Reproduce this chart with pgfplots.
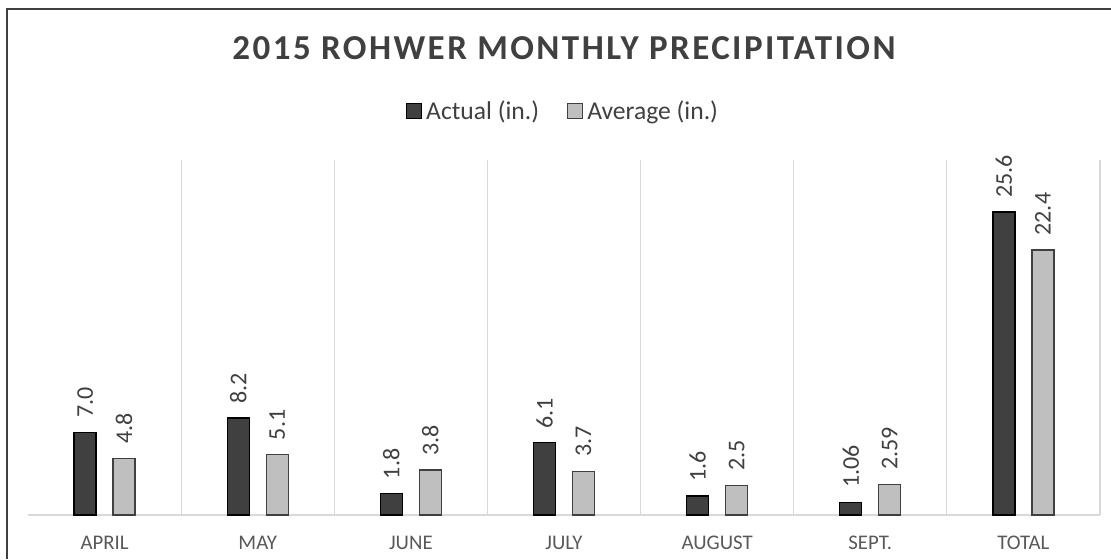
\documentclass[border=0pt]{standalone}
\usepackage{fontspec}
\setmainfont{Carlito}
\newfontfamily\titlefont[LetterSpace=7]{Carlito}
\usepackage{pgfplots}
\usepackage{pgfplotstable}
\pgfplotsset{compat=1.18}
\definecolor{darkbar}{HTML}{404040}
\definecolor{lightbar}{HTML}{BFBFBF}
\definecolor{txt}{HTML}{595959}
\definecolor{ttl}{HTML}{404040}
\definecolor{gridc}{HTML}{D9D9D9}
\pgfplotstableread{
x y lab
0 7.0 7.0
1 8.2 8.2
2 1.8 1.8
3 6.1 6.1
4 1.6 1.6
5 1.06 1.06
6 25.6 25.6
}\actual
\pgfplotstableread{
x y lab
0 4.8 4.8
1 5.1 5.1
2 3.8 3.8
3 3.7 3.7
4 2.5 2.5
5 2.59 2.59
6 22.4 22.4
}\average
\begin{document}
\begin{tikzpicture}
\useasboundingbox (-14pt,-22pt) rectangle (541.5pt,257.5pt);
\draw[color=black!75, line width=0.6pt] (-10.5pt,-22pt) -- (-10.5pt,253pt) -- (541.5pt,253pt);
\begin{axis}[
  at={(0,0)}, anchor=south west,
  scale only axis, width=536pt, height=177.5pt,
  xmin=-0.5, xmax=6.5, ymin=0, ymax=30,
  axis x line*=bottom, axis y line=none,
  x axis line style={draw=gridc, line width=0.75pt, -},
  xtick={0,...,6},
  xticklabels={APRIL,MAY,JUNE,JULY,AUGUST,SEPT.,TOTAL},
  major tick length=0pt,
  xticklabel style={font=\fontsize{10.4}{12}\selectfont, text=txt, yshift=-7pt},
  extra x ticks={0.5,1.5,2.5,3.5,4.5,5.5,6.5},
  extra x tick labels={},
  extra x tick style={grid=major, major grid style={draw=gridc, line width=0.6pt}},
  ybar, bar width=11pt,
  nodes near coords,
  point meta=explicit symbolic,
  every node near coord/.append style={rotate=90, anchor=west, inner xsep=7pt, font=\fontsize{12}{14}\selectfont, text=ttl},
  every axis title shift=0pt,
  title={\titlefont\bfseries 2015 ROHWER MONTHLY PRECIPITATION},
  title style={at={(0.5,1.282)}, anchor=base, font=\fontsize{17.5}{20}\selectfont, text=ttl},
  legend style={at={(0.5,1.137)}, anchor=center, draw=none, fill=none, font=\fontsize{12.8}{14}\selectfont, text=ttl,
    /tikz/every even column/.append style={column sep=12pt}},
  legend columns=2,
  legend image code/.code={\draw[#1] (0pt,-3.75pt) rectangle (7.5pt,3.75pt);},
]
\addplot[bar shift=-9.75pt, fill=darkbar, draw=black, line width=0.6pt] table[x=x, y=y, meta=lab] {\actual};
\addplot[bar shift=9.75pt, fill=lightbar, draw=darkbar, line width=0.6pt] table[x=x, y=y, meta=lab] {\average};
\legend{Actual (in.), Average (in.)}
\end{axis}
\end{tikzpicture}
\end{document}
